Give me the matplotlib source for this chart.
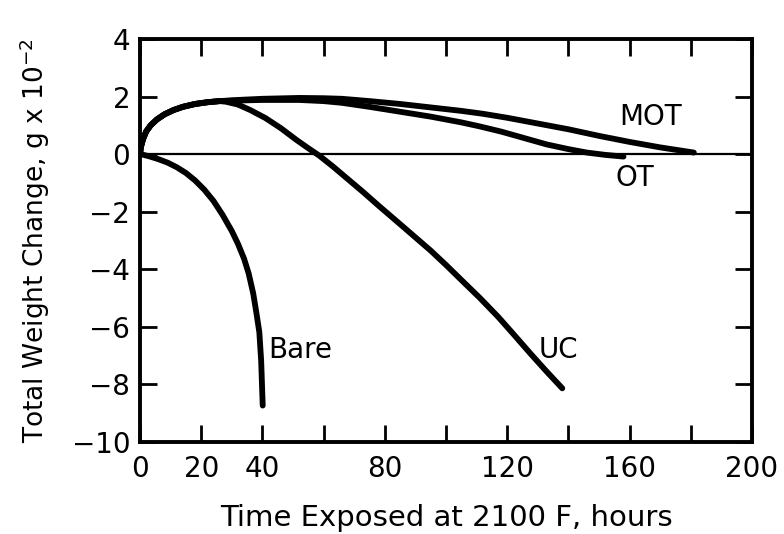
import numpy as np
import matplotlib as mpl
mpl.use('agg')
import matplotlib.pyplot as plt

# curves (hours, g x 10^-2)
bare_t = [0, 3, 6, 9, 12, 15, 18, 21, 24, 27, 30, 32, 34, 35.5, 37, 38, 39, 39.6, 40.1]
bare_w = [0, -0.08, -0.18, -0.30, -0.46, -0.66, -0.92, -1.24, -1.63, -2.12, -2.68,
          -3.12, -3.64, -4.15, -4.85, -5.5, -6.2, -7.2, -8.75]

rise_t = [0, 0.3, 1.0, 2.0, 3.5, 5.5, 8, 11, 14, 18, 22, 26]
rise_w = [0, 0.25, 0.52, 0.78, 1.0, 1.2, 1.38, 1.53, 1.64, 1.74, 1.80, 1.84]

uc_t = [28, 32, 36, 41, 46, 51, 55, 58.5, 63, 68, 73, 78, 85, 90, 95, 100,
        105, 111, 117, 122, 127.5, 133, 138]
uc_w = [1.82, 1.72, 1.53, 1.25, 0.90, 0.50, 0.20, -0.05, -0.43, -0.88, -1.33, -1.80,
        -2.44, -2.90, -3.36, -3.86, -4.38, -5.00, -5.66, -6.26, -6.93, -7.58, -8.15]

ot_t = [32, 40, 52, 60, 66, 75, 85, 95, 105, 111, 118, 125, 133, 140, 146, 152, 158]
ot_w = [1.86, 1.88, 1.88, 1.84, 1.78, 1.64, 1.47, 1.30, 1.10, 0.96, 0.78, 0.57,
        0.33, 0.17, 0.05, -0.03, -0.09]

mot_t = [32, 40, 52, 60, 66, 75, 85, 95, 105, 112, 120, 130, 140, 150, 160, 170, 181]
mot_w = [1.88, 1.92, 1.95, 1.94, 1.92, 1.84, 1.74, 1.62, 1.50, 1.40, 1.26, 1.06,
         0.86, 0.63, 0.42, 0.23, 0.05]

labels = {'MOT': (166.7, 1.29), 'OT': (161.8, -0.83),
          'Bare': (52.5, -6.82), 'UC': (136.8, -6.82)}

xticks_major = [0, 20, 40, 80, 120, 160, 200]
xticks_minor = [60, 100, 140, 180]
yticks = [-10, -8, -6, -4, -2, 0, 2, 4]

plt.rcParams['font.family'] = ['DejaVu Sans']
fig = plt.figure(figsize=(7.84, 5.34), dpi=100)
ax = fig.add_axes([140/784, 1-441.5/534, 612/784, 402.5/534])

lw = 4.2
ax.axhline(0, color='k', lw=1.6, zorder=1)
kw = dict(color='k', lw=lw, solid_capstyle='round', solid_joinstyle='round')
ax.plot(bare_t, bare_w, **kw)
ax.plot(rise_t + uc_t, rise_w + uc_w, **kw)
ax.plot(rise_t + ot_t, rise_w + ot_w, **kw)
ax.plot(rise_t + mot_t, rise_w + mot_w, **kw)

for name, (tx, ty) in labels.items():
    ax.text(tx, ty, name, fontsize=20, ha='center', va='center')

ax.set_xlim(0, 200)
ax.set_ylim(-10, 4)
ax.set_xticks(xticks_major)
ax.set_xticks(xticks_minor, minor=True)
ax.set_yticks(yticks)
ax.set_yticklabels([('\u2212%d' % -v if v < 0 else '%d' % v) for v in yticks])
ax.tick_params(which='both', direction='in', top=True, right=True,
               length=12, width=2.0, labelsize=20, pad=7)
ax.tick_params(axis='x', which='both', pad=10)
for s in ax.spines.values():
    s.set_linewidth(2.8)

ax.set_xlabel('Time Exposed at 2100 F, hours', fontsize=21, labelpad=15)
ax.set_ylabel('Total Weight Change, g x 10$^{-2}$', fontsize=19, labelpad=14)

plt.savefig('out.png', dpi=100, facecolor='w')
